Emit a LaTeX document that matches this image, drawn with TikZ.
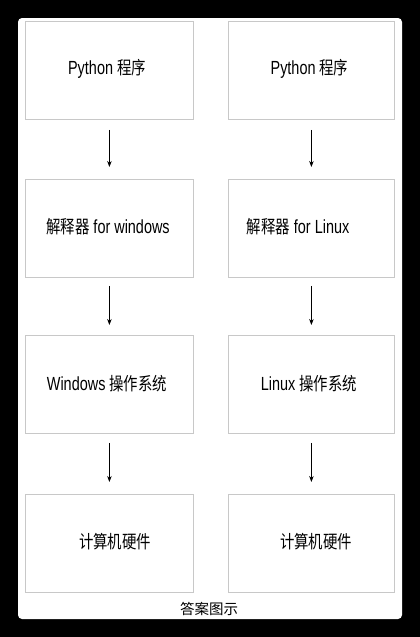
\documentclass[tikz,border=0pt]{standalone}
\usepackage{fontspec}
\setmainfont{Liberation Sans}[FakeStretch=0.76]
\newfontfamily\cjkfont{Noto Sans CJK SC}[FakeStretch=0.8]
\newfontfamily\capfont{Noto Sans CJK SC}
\usetikzlibrary{arrows.meta}
\definecolor{boxgray}{RGB}{200,200,200}
\newcommand\myzh[1]{{\cjkfont\fontsize{18}{20}\selectfont #1}}
\begin{document}
\begin{tikzpicture}[x=1pt,y=-1pt,
  box/.style={draw=boxgray, line width=0.8pt, minimum width=168pt, minimum height=98pt, inner sep=0pt, anchor=north west},
  lbl/.style={font=\fontsize{19}{21}\selectfont, inner sep=0pt},
  arr/.style={-{Stealth[length=6pt,width=4.5pt]}, line width=0.8pt, black}]
\fill[black] (0,0) rectangle (420,637);
\useasboundingbox (0,0) rectangle (420,637);
\fill[white, rounded corners=4pt] (18,18) rectangle (402,619);
% boxes
\node[box] (l1) at (25,21) {};
\node[box] (l2) at (25,179) {};
\node[box] (l3) at (25,335) {};
\node[box] (l4) at (25,494) {};
\node[box, minimum width=166pt] (r1) at (228,21) {};
\node[box, minimum width=166pt] (r2) at (228,179) {};
\node[box, minimum width=166pt] (r3) at (228,335) {};
\node[box, minimum width=166pt] (r4) at (228,494) {};
% labels
\node[lbl] (tl1) at (107,69) {Python \myzh{程序}};
\node[lbl] (tr1) at (309.5,69) {Python \myzh{程序}};
\node[lbl] (tl2) at (108,227) {\myzh{解释器} for windows};
\node[lbl] (tr2) at (298,227) {\myzh{解释器} for Linux};
\node[lbl] (tl3) at (107,384) {Windows \myzh{操作系统}};
\node[lbl] (tr3) at (309,384) {Linux \myzh{操作系统}};
\node[lbl] (tl4) at (115,542) {\myzh{计算机硬件}};
\node[lbl] (tr4) at (316,542) {\myzh{计算机硬件}};
\node[inner sep=0pt, font=\capfont\fontsize{14.5}{16}\selectfont] (cap) at (209,609) {答案图示};
% arrows
\draw[arr, shorten <=10pt, shorten >=12pt] (l1) -- (l2);
\draw[arr, shorten <=8pt, shorten >=10pt] (l2) -- (l3);
\draw[arr, shorten <=9pt, shorten >=12pt] (l3) -- (l4);
\draw[arr, shorten <=10pt, shorten >=12pt] (r1) -- (r2);
\draw[arr, shorten <=8pt, shorten >=10pt] (r2) -- (r3);
\draw[arr, shorten <=9pt, shorten >=12pt] (r3) -- (r4);
\end{tikzpicture}
\end{document}
